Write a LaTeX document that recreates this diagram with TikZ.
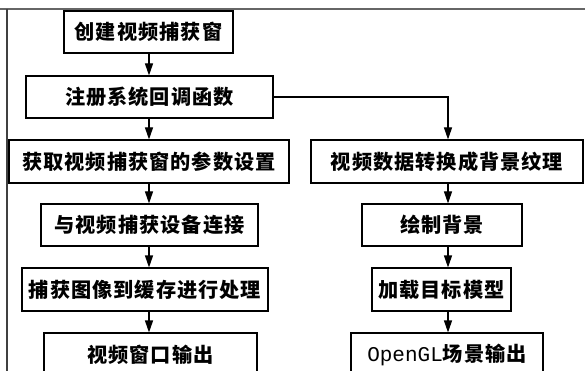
\documentclass[tikz,border=0pt]{standalone}
\usepackage{fontspec}
\newfontfamily\cjk{Noto Sans CJK SC}[LetterSpace=5]
\newfontfamily\latinmono{Liberation Mono}
\usetikzlibrary{arrows.meta}
\begin{document}
\begin{tikzpicture}[x=1pt,y=-1pt,
  box/.style={draw=black,line width=1.1pt,fill=white,inner sep=0pt,
    font=\cjk\bfseries\fontsize{20.2}{20.2}\selectfont,text=black,minimum height=42pt},
  arr/.style={draw=black,line width=1.1pt,-{Triangle[length=12pt,width=8pt]}},
  frame/.style={draw=black!60,line width=1.3pt}]
\useasboundingbox (0,0) rectangle (585,371);
\clip (0,0) rectangle (585,371);
\fill[white] (0,0) rectangle (585,371);
% outer frame
\coordinate (ftl) at (7,9);
\coordinate (ftr) at (585,9);
\coordinate (fl0) at (0,9);
\coordinate (fbl) at (7,380);
\draw[frame] (fl0) -- (ftr);
\draw[frame,draw=black!75] (ftl) -- (fbl);
% columns
\coordinate (colL) at (149,0);
\coordinate (colR) at (448,0);
% left column
\node[box,minimum width=169pt] (b1) at (148.5,32) {创建视频捕获窗};
\node[box,minimum width=247pt] (b2) at (149.5,97) {注册系统回调函数};
\node[box,minimum width=280pt,minimum height=43pt] (b3) at (149,161.5) {获取视频捕获窗的参数设置};
\node[box,minimum width=217pt] (b4) at (149.5,225) {与视频捕获设备连接};
\node[box,minimum width=246pt,minimum height=43pt] (b5) at (145,289.5) {捕获图像到缓存进行处理};
\node[box,minimum width=213pt,minimum height=43pt] (b6) at (150.5,354.5) {视频窗口输出};
% right column
\node[box,minimum width=272pt,minimum height=43pt] (r1) at (447,161.5) {视频数据转换成背景纹理};
\node[box,minimum width=160pt] (r2) at (442,225) {绘制背景};
\node[box,minimum width=139pt,minimum height=43pt] (r3) at (441.5,289.5) {加载目标模型};
\node[box,minimum width=192pt,minimum height=43pt] (r4) at (447,354.5) {{\latinmono\mdseries\fontsize{21}{21}\selectfont OpenGL}场景输出};
% arrows
\draw[arr] (b1.south -| colL) -- (b2.north -| colL);
\draw[arr] (b2.south -| colL) -- (b3.north -| colL);
\draw[arr] (b3.south -| colL) -- (b4.north -| colL);
\draw[arr] (b4.south -| colL) -- (b5.north -| colL);
\draw[arr] (b5.south -| colL) -- (b6.north -| colL);
\draw[arr] (b2.east) -- (b2.east -| colR) -- (r1.north -| colR);
\draw[arr] (r1.south -| colR) -- (r2.north -| colR);
\draw[arr] (r2.south -| colR) -- (r3.north -| colR);
\draw[arr] (r3.south -| colR) -- (r4.north -| colR);
\end{tikzpicture}
\end{document}
